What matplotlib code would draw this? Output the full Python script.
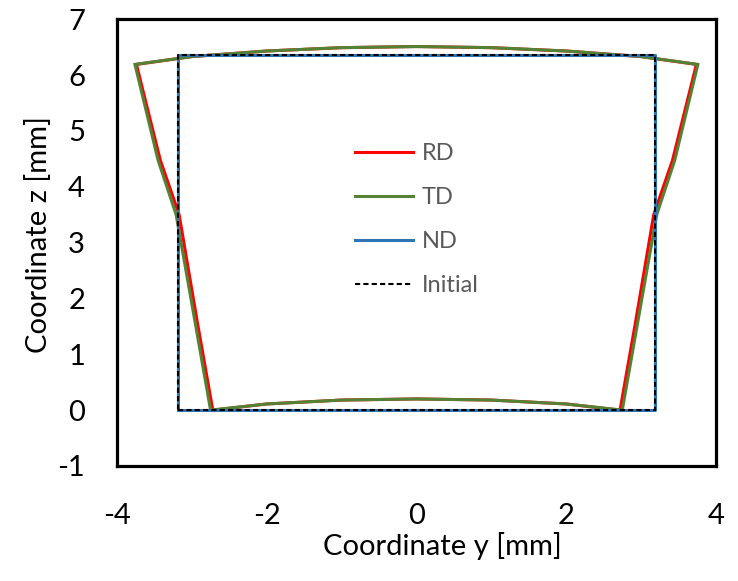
import matplotlib
matplotlib.use("Agg")
import matplotlib.pyplot as plt

# Initial cross-section (ND coincides with it)
init_y = [-3.19, 3.19, 3.19, -3.19, -3.19]
init_z = [0.0, 0.0, 6.35, 6.35, 0.0]

# Deformed contour, RD
rd_y = [-2.72, -2.0, -1.0, 0.0, 1.0, 2.0, 2.72, 2.93, 3.17, 3.42, 3.74,
        3.0, 2.0, 1.0, 0.0, -1.0, -2.0, -3.0, -3.74, -3.42, -3.17, -2.93, -2.72]
rd_z = [0.0, 0.11, 0.18, 0.2, 0.18, 0.11, 0.0, 1.6, 3.5, 4.47, 6.19,
        6.33, 6.43, 6.49, 6.51, 6.49, 6.43, 6.33, 6.19, 4.47, 3.5, 1.6, 0.0]

# Deformed contour, TD
td_y = [-2.75, -2.0, -1.0, 0.0, 1.0, 2.0, 2.75, 2.96, 3.21, 3.45, 3.76,
        3.0, 2.0, 1.0, 0.0, -1.0, -2.0, -3.0, -3.76, -3.45, -3.21, -2.96, -2.75]
td_z = [0.0, 0.11, 0.18, 0.2, 0.18, 0.11, 0.0, 1.6, 3.5, 4.47, 6.19,
        6.33, 6.43, 6.49, 6.51, 6.49, 6.43, 6.33, 6.19, 4.47, 3.5, 1.6, 0.0]

x_ticks = [-4, -2, 0, 2, 4]
y_ticks = [-1, 0, 1, 2, 3, 4, 5, 6, 7]

plt.rcParams["font.family"] = ["Lato", "DejaVu Sans"]
plt.rcParams["axes.unicode_minus"] = False

fig = plt.figure(figsize=(7.38, 5.81), dpi=100)
ax = fig.add_axes([0.1585, 0.198, 0.8115, 0.769])

ax.plot(rd_y, rd_z, color="#FF0000", lw=2.2, label="RD", solid_joinstyle="miter")
ax.plot(td_y, td_z, color="#548235", lw=2.2, label="TD", solid_joinstyle="miter")
ax.plot(init_y, init_z, color="#2E75B6", lw=2.2, label="ND")
ax.plot(init_y, init_z, color="black", lw=1.5, ls=(0, (2.5, 1.5)), label="Initial")

ax.set_xlim(-4, 4)
ax.set_ylim(-1, 7)
ax.set_xticks(x_ticks)
ax.set_yticks(y_ticks)
ax.tick_params(length=0, labelsize=21, colors="black")
ax.tick_params(axis="x", pad=27)
ax.tick_params(axis="y", pad=23)
for s in ax.spines.values():
    s.set_linewidth(2.3)
    s.set_color("black")

ax.set_xlabel("Coordinate y [mm]", fontsize=21, color="black")
ax.set_ylabel("Coordinate z [mm]", fontsize=21, color="black")
ax.xaxis.set_label_coords(0.543, -0.148)
ax.yaxis.set_label_coords(-0.108, 0.519)

leg = ax.legend(loc="upper left", bbox_to_anchor=(0.397, 0.722), frameon=False,
                fontsize=17, handlelength=2.45, handletextpad=0.38,
                labelspacing=0.97, borderaxespad=0, borderpad=0)
for t in leg.get_texts():
    t.set_color("#595959")

fig.savefig("out.png", dpi=100)
